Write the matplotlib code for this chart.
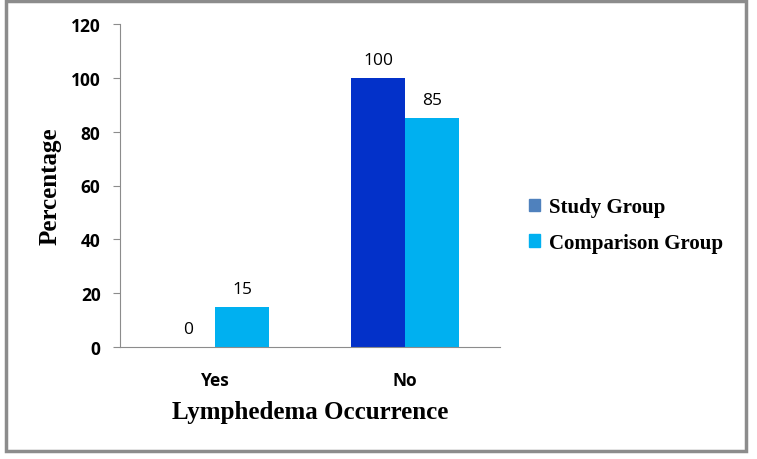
import matplotlib.pyplot as plt
from matplotlib.patches import Patch, Rectangle
import numpy as np

# Data
categories = ["Yes", "No"]
study_group = [0, 100]
comparison_group = [15, 85]
y_ticks = [0, 20, 40, 60, 80, 100, 120]

study_color = "#0331C9"
comparison_color = "#00B0F0"
legend_study_color = "#4F81BD"
axis_gray = "#8C8C8C"

fig = plt.figure(figsize=(7.57, 4.60), dpi=100)
ax = fig.add_axes([120 / 757, 1 - 348 / 460, 380 / 757, 323 / 460])

x = np.arange(len(categories))
width = 0.284

# Two bars side by side per category
bars1 = ax.bar(x - width / 2, study_group, width, color=study_color)
bars2 = ax.bar(x + width / 2, comparison_group, width, color=comparison_color)

ax.bar_label(bars1, padding=7, fontsize=12.5, fontfamily="Open Sans")
ax.bar_label(bars2, padding=7, fontsize=12.5, fontfamily="Open Sans")

ax.set_xlim(-0.5, 1.5)
ax.set_ylim(0, 120)
ax.set_yticks(y_ticks)
ax.set_xticks(x)
ax.set_xticklabels(categories, fontfamily="Open Sans", fontweight="bold", fontsize=12.5)
for lbl in ax.get_yticklabels():
    lbl.set_fontfamily("Open Sans")
    lbl.set_fontweight("bold")
    lbl.set_fontsize(12.5)

ax.tick_params(axis="x", length=0, pad=17)
ax.tick_params(axis="y", length=5, color=axis_gray, pad=9)

for side in ["top", "right"]:
    ax.spines[side].set_visible(False)
ax.spines["left"].set_color(axis_gray)
ax.spines["bottom"].set_color(axis_gray)

ax.set_xlabel("Lymphedema Occurrence", fontfamily="Liberation Serif",
              fontweight="bold", fontsize=18, labelpad=8)
ax.set_ylabel("Percentage", fontfamily="Liberation Serif",
              fontweight="bold", fontsize=18, labelpad=7)

# Legend placed on the right of the plot
handles = [Patch(color=legend_study_color, label="Study Group"),
           Patch(color=comparison_color, label="Comparison Group")]
fig.legend(handles=handles, loc="center left", bbox_to_anchor=(510 / 757, 1 - 226 / 460),
           frameon=False, handlelength=0.55, handleheight=0.55, handletextpad=0.4,
           labelspacing=0.75, prop=dict(family="Liberation Serif", weight="bold", size=15))

# Gray frame around the whole chart
fig.patches.append(Rectangle((6 / 757, 1 - 452 / 460), 740 / 757, 450 / 460,
                             transform=fig.transFigure, fill=False,
                             edgecolor=axis_gray, linewidth=2.5))

fig.savefig("out.png", dpi=100)
